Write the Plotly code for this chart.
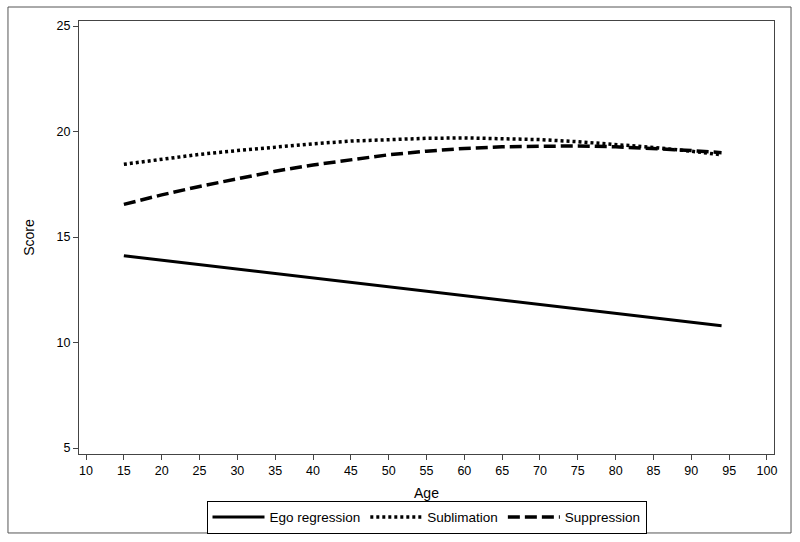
import plotly.graph_objects as go

ages = [15, 20, 25, 30, 35, 40, 45, 50, 55, 60, 65, 70, 75, 80, 85, 90, 94]
ego_regression = [14.12, 13.91, 13.70, 13.49, 13.28, 13.07, 12.86, 12.65, 12.44, 12.23,
                  12.02, 11.81, 11.60, 11.39, 11.18, 10.97, 10.80]
sublimation = [18.45, 18.70, 18.92, 19.10, 19.28, 19.42, 19.55, 19.63, 19.68, 19.70,
               19.68, 19.62, 19.52, 19.40, 19.25, 19.07, 18.90]
suppression = [16.55, 17.00, 17.40, 17.78, 18.12, 18.42, 18.68, 18.90, 19.07, 19.20,
               19.28, 19.32, 19.32, 19.28, 19.20, 19.10, 19.00]

x_ticks = list(range(10, 101, 5))
y_ticks = [5, 10, 15, 20, 25]

fig = go.Figure()
fig.add_trace(go.Scatter(x=ages, y=ego_regression, mode="lines", name="Ego regression",
                         line=dict(color="black", width=3, dash="solid")))
fig.add_trace(go.Scatter(x=ages, y=sublimation, mode="lines", name="Sublimation",
                         line=dict(color="black", width=3.5, dash="3px,3px")))
fig.add_trace(go.Scatter(x=ages, y=suppression, mode="lines", name="Suppression",
                         line=dict(color="black", width=3.5, dash="12px,5px")))

axis_common = dict(showgrid=False, zeroline=False, showline=True, linecolor="#444",
                   linewidth=1, mirror=True, ticks="outside", ticklen=5, tickcolor="#444",
                   tickfont=dict(size=12.5, color="black"), automargin=False)

fig.update_layout(
    width=800, height=542,
    margin=dict(l=79, r=26, t=21, b=88),
    paper_bgcolor="white", plot_bgcolor="white",
    font=dict(family="Liberation Sans, Arial, sans-serif", size=12, color="black"),
    xaxis=dict(range=[9.07, 100.93], tickvals=x_ticks,
               title=dict(text="Age", font=dict(size=14), standoff=12), **axis_common),
    yaxis=dict(range=[4.72, 25.24], tickvals=y_ticks,
               title=dict(text="Score", font=dict(size=14), standoff=18), **axis_common),
    legend=dict(orientation="h", x=0.5, xanchor="center", xref="paper",
                y=0.076, yanchor="top", yref="container",
                bordercolor="black", borderwidth=1, font=dict(size=13.5),
                itemwidth=52, tracegroupgap=0),
    showlegend=True,
)

fig.add_shape(type="rect", xref="paper", yref="paper",
              x0=-0.1022, x1=1.0245, y0=-0.1824, y1=1.0323,
              line=dict(color="#555", width=1), fillcolor="rgba(0,0,0,0)", layer="below")

fig.write_html("out.html", config={"displayModeBar": False},
               post_script="document.body.style.margin='0';document.body.style.padding='0';")
